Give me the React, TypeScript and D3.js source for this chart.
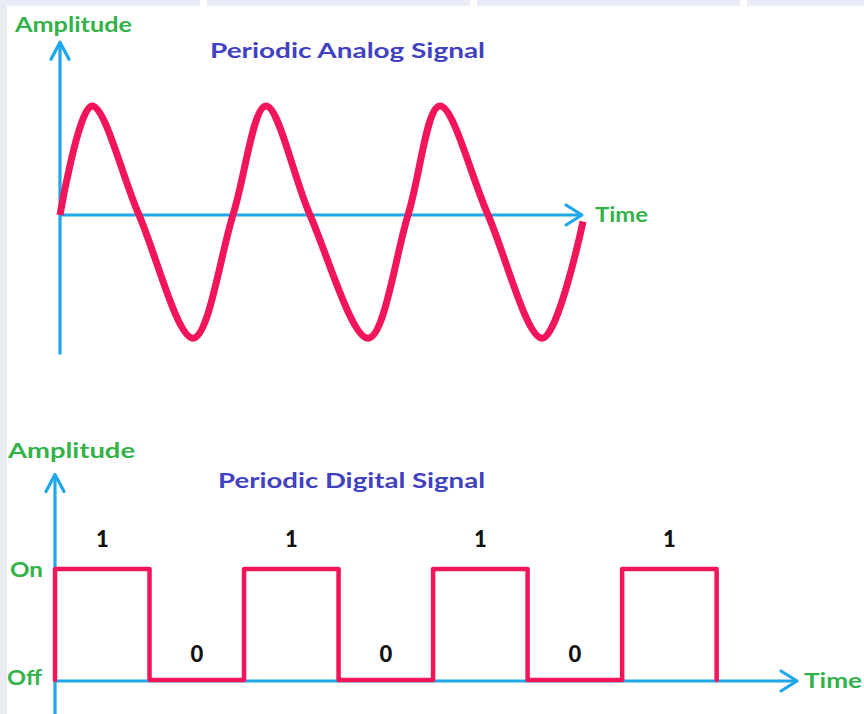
import React from "react";
import * as d3 from "d3";

// Periodic analog signal: key points (time in periods, amplitude)
const analogTime = [0, 0.184, 0.454, 0.764, 0.994, 1.184, 1.437, 1.77, 2.0, 2.184, 2.46, 2.77, 3.006];
const analogAmp = [0, 1, 0, -1.13, 0, 1, 0, -1.13, 0, 1, 0, -1.13, -0.06];

// Periodic digital signal: bit values per bit interval
const digitalBits = [1, 0, 1, 0, 1, 0, 1];
const levelLabels = ["Off", "On"];

const titles = ["Periodic Analog Signal", "Periodic Digital Signal"];
const axisY = "Amplitude";
const axisX = "Time";

const W = 864;
const H = 714;
const GREEN = "#34b24a";
const BLUE = "#1ea7ea";
const PINK = "#f2155a";
const PURPLE = "#4141c3";
const FONT = "Lato, 'Open Sans', 'DejaVu Sans', sans-serif";

function Chevron({ x, y, dir }: { x: number; y: number; dir: "up" | "right" }) {
  const d =
    dir === "up"
      ? `M${x - 9},${y + 17} L${x},${y} L${x + 9},${y + 17}`
      : `M${x - 16},${y - 10} L${x},${y} L${x - 16},${y + 10}`;
  return <path d={d} fill="none" stroke={BLUE} strokeWidth={3.2} strokeLinecap="round" strokeLinejoin="round" />;
}

export default function App() {
  // --- top chart scales
  const xTop = d3.scaleLinear().domain([0, 3]).range([60, 582]);
  const yTop = d3.scaleLinear().domain([-1, 1]).range([324, 106]);
  const analogData = analogTime.map((t, i) => [t, analogAmp[i]] as [number, number]);
  const analogLine = d3
    .line<[number, number]>()
    .x((d) => xTop(d[0]))
    .y((d) => yTop(d[1]))
    .curve(d3.curveCardinal.tension(0));

  // --- bottom chart scales
  const xBot = d3.scaleLinear().domain([0, 7.85]).range([55, 797]);
  const yBot = d3.scaleLinear().domain([0, 1]).range([681, 570]);
  const digitalData: [number, number][] = [[0, 0]];
  digitalBits.forEach((b, i) => digitalData.push([i, b]));
  digitalData.push([digitalBits.length, 0]);
  const digitalLine = d3
    .line<[number, number]>()
    .x((d) => xBot(d[0]))
    .y((d) => yBot(d[1]))
    .curve(d3.curveStepAfter);

  const topX0 = xTop(0);
  const topY0 = yTop(0);
  const botX0 = xBot(0);
  const botY0 = yBot(0);

  return (
    <svg
      width={W}
      height={H}
      viewBox={`0 0 ${W} ${H}`}
      style={{ position: "absolute", left: 0, top: 0, display: "block", background: "#fff" }}
    >
      {/* faint page background pieces */}
      <rect x={0} y={0} width={200} height={6} fill="#e9ecf4" />
      <rect x={207} y={0} width={263} height={6} fill="#e9ecf4" />
      <rect x={477} y={0} width={263} height={6} fill="#e9ecf4" />
      <rect x={747} y={0} width={117} height={6} fill="#e9ecf4" />
      <rect x={0} y={0} width={7} height={H} fill="#e8ebf2" />

      {/* ===== Top chart ===== */}
      <text x={15} y={32} fontFamily={FONT} fontWeight={700} fontSize={21} fill={GREEN} textLength={117} lengthAdjust="spacingAndGlyphs">
        {axisY}
      </text>
      <text x={210} y={58} fontFamily={FONT} fontWeight={700} fontSize={21} fill={PURPLE} textLength={275} lengthAdjust="spacingAndGlyphs">
        {titles[0]}
      </text>
      <line x1={topX0} y1={yTop(-1.28)} x2={topX0} y2={yTop(1.585)} stroke={BLUE} strokeWidth={3.2} />
      <Chevron x={topX0} y={yTop(1.585)} dir="up" />
      <line x1={topX0} y1={topY0} x2={xTop(3)} y2={topY0} stroke={BLUE} strokeWidth={3.2} />
      <Chevron x={xTop(3)} y={topY0} dir="right" />
      <path d={analogLine(analogData) || ""} fill="none" stroke={PINK} strokeWidth={7} strokeLinecap="butt" strokeLinejoin="round" />
      <text x={595} y={222} fontFamily={FONT} fontWeight={700} fontSize={21} fill={GREEN} textLength={53} lengthAdjust="spacingAndGlyphs">
        {axisX}
      </text>

      {/* ===== Bottom chart ===== */}
      <text x={8} y={458} fontFamily={FONT} fontWeight={700} fontSize={21} fill={GREEN} textLength={127} lengthAdjust="spacingAndGlyphs">
        {axisY}
      </text>
      <text x={218} y={488} fontFamily={FONT} fontWeight={700} fontSize={21} fill={PURPLE} textLength={267} lengthAdjust="spacingAndGlyphs">
        {titles[1]}
      </text>
      <line x1={botX0} y1={H} x2={botX0} y2={yBot(1.86)} stroke={BLUE} strokeWidth={3.2} />
      <Chevron x={botX0} y={yBot(1.86)} dir="up" />
      <line x1={botX0} y1={botY0} x2={xBot(7.85)} y2={botY0} stroke={BLUE} strokeWidth={3.2} />
      <Chevron x={xBot(7.85)} y={botY0} dir="right" />
      <path d={digitalLine(digitalData) || ""} fill="none" stroke={PINK} strokeWidth={4.5} strokeLinejoin="round" strokeLinecap="round" transform="translate(0,-1)" />

      {digitalBits.map((b, i) => (
        <text
          key={i}
          x={xBot(i + 0.5)}
          y={b === 1 ? 547 : 662}
          textAnchor="middle"
          fontFamily={FONT}
          fontWeight={900}
          fontSize={22}
          fill="#111"
        >
          {b}
        </text>
      ))}

      <text x={10} y={577} fontFamily={FONT} fontWeight={700} fontSize={21} fill={GREEN} textLength={33} lengthAdjust="spacingAndGlyphs">
        {levelLabels[1]}
      </text>
      <text x={7} y={685} fontFamily={FONT} fontWeight={700} fontSize={21} fill={GREEN} textLength={35} lengthAdjust="spacingAndGlyphs">
        {levelLabels[0]}
      </text>
      <text x={804} y={688} fontFamily={FONT} fontWeight={700} fontSize={21} fill={GREEN} textLength={58} lengthAdjust="spacingAndGlyphs">
        {axisX}
      </text>
    </svg>
  );
}
